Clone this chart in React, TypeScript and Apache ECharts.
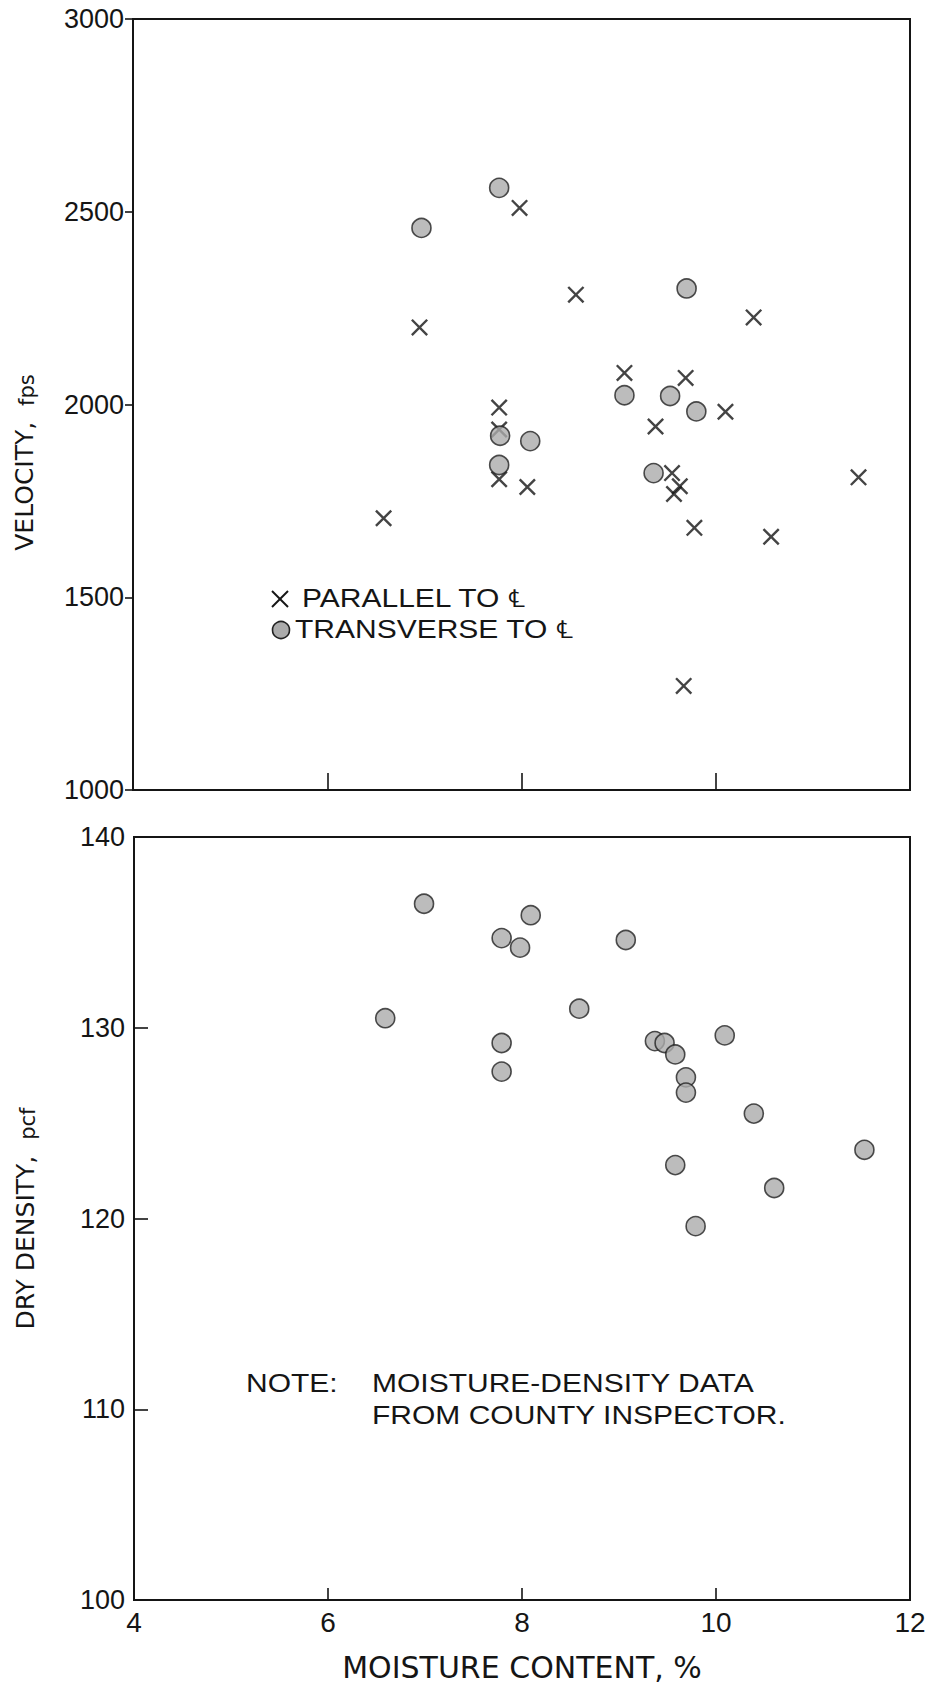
import React, { useEffect, useRef } from "react";
import * as echarts from "echarts";

// ---- Data ----
// Top panel: velocity (fps) vs moisture content (%)
const parallelMoisture = [6.58, 6.95, 7.77, 7.77, 7.77, 7.98, 8.06, 8.56, 9.06, 9.38, 9.55, 9.63, 9.57, 9.69, 9.78, 10.1, 10.39, 10.57, 9.67, 11.47];
const parallelVelocity = [1705, 2200, 1992, 1935, 1806, 2510, 1786, 2285, 2082, 1943, 1822, 1788, 1768, 2069, 1680, 1981, 2226, 1657, 1270, 1811];

const transverseMoisture = [6.97, 7.77, 7.78, 7.77, 8.09, 9.06, 9.53, 9.7, 9.8, 9.36];
const transverseVelocity = [2458, 2562, 1919, 1843, 1905, 2024, 2022, 2301, 1982, 1822];

// Bottom panel: dry density (pcf) vs moisture content (%)
const densityMoisture = [6.59, 6.99, 7.79, 7.98, 8.09, 9.07, 8.59, 7.79, 7.79, 9.37, 9.47, 9.58, 9.69, 9.69, 10.09, 10.39, 9.58, 10.6, 9.79, 11.53];
const densityValues = [130.5, 136.5, 134.7, 134.2, 135.9, 134.6, 131.0, 129.2, 127.7, 129.3, 129.2, 128.6, 127.4, 126.6, 129.6, 125.5, 122.8, 121.6, 119.6, 123.6];

const legendParallel = "PARALLEL TO ℄";
const legendTransverse = "TRANSVERSE TO ℄";
const noteLabel = "NOTE:";
const noteLines = ["MOISTURE-DENSITY DATA", "FROM COUNTY INSPECTOR."];

const FONT = "'Liberation Sans', Arial, sans-serif";
const NAME_FONT = "'DejaVu Sans', 'Liberation Sans', sans-serif";
const NUM_FONT = "'Liberation Sans', Arial, sans-serif";
const INK = "#151515";
const CIRCLE_FILL = "#ababab";

const X_PATH = "path://M0,1 L1,0 L10,9 L9,10 Z M9,0 L10,1 L1,10 L0,9 Z";

function zip(a: number[], b: number[]) {
  return a.map((v, i) => [v, b[i]]);
}

const plainNum = (v: number) => String(v);

export default function App() {
  const ref = useRef<HTMLDivElement>(null);

  useEffect(() => {
    if (!ref.current) return;
    const chart = echarts.init(ref.current, undefined, { renderer: "svg" });

    const gridCommon = {
      show: true,
      borderColor: INK,
      borderWidth: 2,
      backgroundColor: "transparent",
      containLabel: false,
    };

    const nameRich = {
      a: { fontSize: 25, fontFamily: NAME_FONT, color: INK, verticalAlign: "bottom", lineHeight: 30 },
      b: { fontSize: 21, fontFamily: NAME_FONT, color: INK, verticalAlign: "bottom", lineHeight: 30 },
    };

    const option: any = {
      animation: false,
      backgroundColor: "#ffffff",
      grid: [
        { ...gridCommon, left: 133, right: 21, top: 19, height: 771 },
        { ...gridCommon, left: 134, right: 21, top: 837, height: 763 },
      ],
      xAxis: [
        {
          gridIndex: 0,
          type: "value",
          min: 4,
          max: 12,
          interval: 2,
          axisLine: { show: true, lineStyle: { color: INK, width: 2 } },
          axisTick: { show: true, inside: true, length: 17, lineStyle: { color: INK, width: 1.6 } },
          axisLabel: { show: false },
          splitLine: { show: false },
        },
        {
          gridIndex: 1,
          type: "value",
          min: 4,
          max: 12,
          interval: 2,
          axisLine: { show: true, lineStyle: { color: INK, width: 2 } },
          axisTick: { show: true, inside: true, length: 12, lineStyle: { color: INK, width: 1.6 } },
          axisLabel: { show: true, color: INK, fontSize: 28, fontFamily: NUM_FONT, margin: 8, formatter: plainNum },
          splitLine: { show: false },
          name: "MOISTURE CONTENT, %",
          nameLocation: "middle",
          nameGap: 52,
          nameTextStyle: { color: INK, fontSize: 30, fontFamily: NAME_FONT },
        },
      ],
      yAxis: [
        {
          gridIndex: 0,
          type: "value",
          min: 1000,
          max: 3000,
          interval: 500,
          axisLine: { show: true, lineStyle: { color: INK, width: 2 } },
          axisTick: { show: true, inside: false, length: 8, lineStyle: { color: INK, width: 1.6 } },
          axisLabel: { show: true, color: INK, fontSize: 27, fontFamily: NUM_FONT, margin: 9, formatter: plainNum },
          splitLine: { show: false },
          name: "{a|VELOCITY,  }{b|fps}",
          nameLocation: "middle",
          nameGap: 96,
          nameTextStyle: {
            color: INK,
            padding: [0, 116, 0, 0],
            rich: nameRich,
          },
        },
        {
          gridIndex: 1,
          type: "value",
          min: 100,
          max: 140,
          interval: 10,
          axisLine: { show: true, lineStyle: { color: INK, width: 2 } },
          axisTick: { show: true, inside: true, length: 14, lineStyle: { color: INK, width: 1.6 } },
          axisLabel: { show: true, color: INK, fontSize: 27, fontFamily: NUM_FONT, margin: 9, formatter: plainNum },
          splitLine: { show: false },
          name: "{a|DRY DENSITY,  }{b|pcf}",
          nameLocation: "middle",
          nameGap: 96,
          nameTextStyle: {
            color: INK,
            rich: nameRich,
          },
        },
      ],
      series: [
        {
          name: legendParallel,
          type: "scatter",
          xAxisIndex: 0,
          yAxisIndex: 0,
          data: zip(parallelMoisture, parallelVelocity),
          symbol: X_PATH,
          symbolSize: 17,
          itemStyle: { color: INK },
          z: 3,
        },
        {
          name: legendTransverse,
          type: "scatter",
          xAxisIndex: 0,
          yAxisIndex: 0,
          data: zip(transverseMoisture, transverseVelocity),
          symbol: "circle",
          symbolSize: 19,
          itemStyle: { color: CIRCLE_FILL, borderColor: "#222", borderWidth: 1.6 },
          z: 4,
        },
        {
          name: "Dry density",
          type: "scatter",
          xAxisIndex: 1,
          yAxisIndex: 1,
          data: zip(densityMoisture, densityValues),
          symbol: "circle",
          symbolSize: 19,
          itemStyle: { color: CIRCLE_FILL, borderColor: "#222", borderWidth: 1.6 },
          z: 4,
        },
      ],
      graphic: [
        // legend key: X
        { type: "line", shape: { x1: 272, y1: 591, x2: 288, y2: 607 }, style: { stroke: INK, lineWidth: 2 } },
        { type: "line", shape: { x1: 288, y1: 591, x2: 272, y2: 607 }, style: { stroke: INK, lineWidth: 2 } },
        {
          type: "text",
          x: 302,
          y: 598,
          scaleX: 1.2,
          style: { text: legendParallel, fontSize: 25, fontFamily: FONT, fill: INK, verticalAlign: "middle", align: "left" },
        },
        // legend key: circle
        { type: "circle", shape: { cx: 281, cy: 630, r: 8.5 }, style: { fill: CIRCLE_FILL, stroke: "#222", lineWidth: 1.6 } },
        {
          type: "text",
          x: 295,
          y: 629,
          scaleX: 1.2,
          style: { text: legendTransverse, fontSize: 25, fontFamily: FONT, fill: INK, verticalAlign: "middle", align: "left" },
        },
        // note
        {
          type: "text",
          x: 246,
          y: 1383,
          scaleX: 1.2,
          style: { text: noteLabel, fontSize: 25, fontFamily: FONT, fill: INK, verticalAlign: "middle", align: "left" },
        },
        {
          type: "text",
          x: 372,
          y: 1383,
          scaleX: 1.2,
          style: { text: noteLines[0], fontSize: 25, fontFamily: FONT, fill: INK, verticalAlign: "middle", align: "left" },
        },
        {
          type: "text",
          x: 372,
          y: 1415,
          scaleX: 1.2,
          style: { text: noteLines[1], fontSize: 25, fontFamily: FONT, fill: INK, verticalAlign: "middle", align: "left" },
        },
      ],
    };

    chart.setOption(option);
    return () => chart.dispose();
  }, []);

  return (
    <div
      ref={ref}
      style={{ position: "absolute", left: 0, top: 0, width: 931, height: 1689, background: "#fff" }}
    />
  );
}
